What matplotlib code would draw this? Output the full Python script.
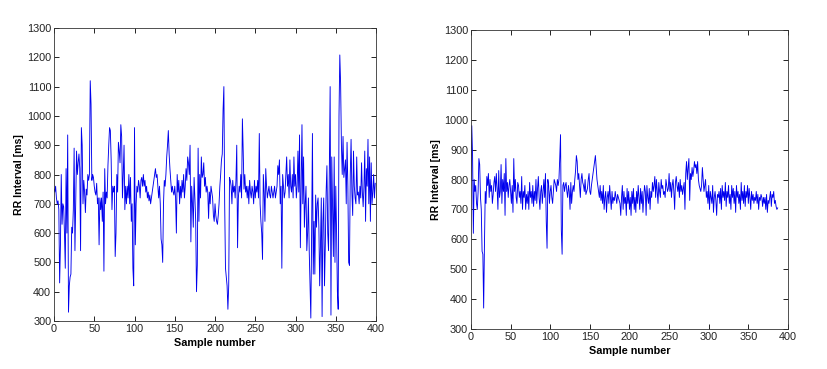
"""RR interval series, two recordings side by side (MATLAB-style plots)."""

import numpy as np
import matplotlib
matplotlib.use("Agg")
import matplotlib.pyplot as plt

plt.rcParams["font.family"] = ["Liberation Sans", "DejaVu Sans"]

# RR intervals [ms], one value per sample
rr_left = [
    750, 740, 760, 720, 700, 710, 680, 430, 560, 800,
    630, 700, 690, 600, 480, 820, 600, 935, 330, 420,
    450, 460, 620, 600, 680, 890, 540, 720, 880, 800,
    840, 870, 820, 540, 960, 900, 700, 780, 740, 670,
    750, 730, 800, 780, 800, 1120, 1040, 780, 800, 790,
    760, 740, 730, 770, 700, 720, 560, 720, 680, 720,
    640, 740, 470, 820, 700, 740, 720, 830, 900, 960,
    950, 850, 680, 760, 740, 760, 520, 600, 800, 740,
    910, 880, 840, 970, 930, 720, 800, 900, 680, 760,
    700, 760, 720, 800, 700, 790, 640, 700, 480, 420,
    960, 560, 700, 760, 740, 780, 760, 720, 780, 790,
    760, 800, 760, 780, 740, 760, 720, 740, 710, 730,
    700, 720, 740, 760, 780, 800, 820, 790, 800, 760,
    720, 760, 700, 580, 560, 500, 700, 780, 760, 800,
    860, 900, 950, 870, 820, 780, 740, 760, 740, 730,
    760, 720, 600, 800, 740, 780, 700, 760, 720, 780,
    740, 800, 720, 760, 820, 780, 860, 840, 800, 900,
    570, 760, 700, 620, 790, 720, 640, 400, 490, 890,
    640, 800, 720, 860, 790, 800, 840, 760, 790, 740,
    760, 740, 650, 740, 700, 760, 740, 720, 660, 640,
    700, 660, 640, 630, 660, 700, 760, 800, 850, 870,
    1020, 1100, 700, 480, 450, 420, 340, 420, 790, 780,
    760, 700, 780, 740, 760, 720, 780, 900, 550, 720,
    760, 740, 800, 720, 990, 880, 750, 800, 740, 760,
    720, 760, 700, 780, 740, 720, 760, 740, 700, 780,
    720, 760, 740, 780, 720, 940, 700, 640, 600, 510,
    800, 740, 640, 820, 760, 720, 740, 760, 730, 720,
    760, 740, 720, 740, 760, 720, 740, 760, 830, 800,
    850, 700, 760, 480, 800, 760, 720, 740, 800, 860,
    760, 800, 720, 850, 760, 740, 800, 720, 860, 760,
    800, 720, 760, 880, 740, 935, 550, 760, 970, 700,
    860, 620, 700, 760, 540, 600, 720, 540, 420, 310,
    600, 940, 460, 640, 460, 730, 620, 700, 720, 620,
    420, 560, 720, 315, 640, 720, 420, 560, 740, 830,
    600, 540, 840, 1100, 320, 860, 700, 520, 860, 500,
    760, 600, 400, 340, 1000, 1208, 1110, 900, 800, 930,
    790, 820, 850, 700, 910, 760, 500, 490, 800, 920,
    740, 660, 880, 760, 720, 700, 860, 730, 740, 700,
    760, 720, 840, 740, 690, 760, 880, 640, 820, 760,
    920, 700, 860, 640, 840, 700, 740, 800, 720, 770,
]

rr_right = [
    800, 980, 880, 620, 800, 760, 780, 720, 700, 760,
    870, 850, 740, 700, 560, 550, 370, 580, 760, 720,
    810, 780, 820, 740, 800, 760, 780, 720, 750, 790,
    810, 760, 820, 770, 700, 830, 740, 760, 850, 720,
    800, 760, 820, 680, 870, 760, 790, 740, 780, 800,
    760, 720, 780, 690, 870, 760, 800, 740, 720, 790,
    780, 740, 760, 720, 810, 700, 760, 740, 780, 700,
    750, 720, 760, 700, 790, 740, 760, 720, 780, 710,
    760, 730, 800, 720, 770, 810, 740, 700, 760, 780,
    720, 760, 800, 740, 820, 660, 570, 800, 780, 720,
    760, 780, 740, 720, 760, 800, 790, 780, 760, 800,
    780, 800, 870, 950, 630, 550, 780, 790, 760, 780,
    790, 760, 740, 780, 760, 700, 790, 720, 760, 780,
    760, 800, 830, 880, 860, 800, 820, 780, 740, 800,
    820, 790, 780, 760, 800, 750, 760, 770, 800, 820,
    760, 750, 780, 800, 820, 840, 860, 880, 840, 800,
    780, 760, 740, 780, 730, 760, 720, 780, 700, 740,
    760, 690, 740, 760, 720, 780, 740, 700, 760, 720,
    740, 730, 760, 740, 720, 750, 740, 730, 720, 680,
    740, 780, 700, 760, 720, 740, 680, 770, 720, 760,
    700, 740, 680, 760, 720, 770, 700, 740, 690, 760,
    720, 780, 740, 700, 770, 720, 760, 690, 740, 780,
    760, 680, 780, 740, 720, 770, 700, 760, 740, 790,
    760, 780, 810, 740, 800, 760, 720, 790, 760, 740,
    800, 770, 780, 750, 760, 740, 800, 780, 760, 770,
    820, 760, 790, 740, 780, 800, 760, 700, 790, 810,
    780, 760, 790, 740, 800, 760, 780, 750, 770, 790,
    700, 820, 860, 800, 840, 870, 730, 820, 800, 840,
    810, 830, 860, 840, 850, 820, 860, 800, 780, 770,
    760, 780, 840, 800, 760, 780, 800, 740, 760, 720,
    780, 700, 760, 740, 720, 780, 690, 740, 760, 730,
    680, 750, 740, 760, 720, 770, 700, 780, 740, 760,
    730, 790, 710, 760, 740, 780, 720, 750, 700, 780,
    740, 770, 720, 760, 690, 780, 740, 760, 720, 750,
    700, 790, 730, 760, 720, 780, 710, 760, 740, 780,
    720, 770, 740, 700, 760, 730, 750, 720, 740, 730,
    760, 720, 750, 700, 740, 730, 750, 740, 710, 740,
    720, 740, 700, 750, 690, 730, 720, 740, 760, 710,
    750, 740, 760, 720, 730, 710, 700, 705,
]

x_ticks = np.arange(0, 401, 50)
y_ticks = np.arange(300, 1301, 100)


def matlab_axes(ax):
    ax.set_xlim(0, 400)
    ax.set_ylim(300, 1300)
    ax.set_xticks(x_ticks)
    ax.set_yticks(y_ticks)
    ax.tick_params(direction="in", top=True, right=True, length=3.5,
                   width=0.6, labelsize=7.8, pad=2, labelcolor="#222222")
    for s in ax.spines.values():
        s.set_linewidth(0.6)
        s.set_color("#333333")
    ax.set_xlabel("Sample number", fontsize=7.8, fontweight="bold", labelpad=3)
    ax.set_ylabel("RR Interval [ms]", fontsize=7.6, fontweight="bold", labelpad=2)


fig = plt.figure(figsize=(8.27, 3.69), dpi=100)
ax1 = fig.add_axes([0.0653, 0.1301, 0.3894, 0.7940])
ax2 = fig.add_axes([0.5695, 0.1084, 0.3833, 0.8103])

ax1.plot(np.arange(len(rr_left)), rr_left, color="#0000ee", lw=0.65)
ax2.plot(np.arange(len(rr_right)), rr_right, color="#0000ee", lw=0.65)
matlab_axes(ax1)
matlab_axes(ax2)

fig.savefig("out.png", dpi=100)
